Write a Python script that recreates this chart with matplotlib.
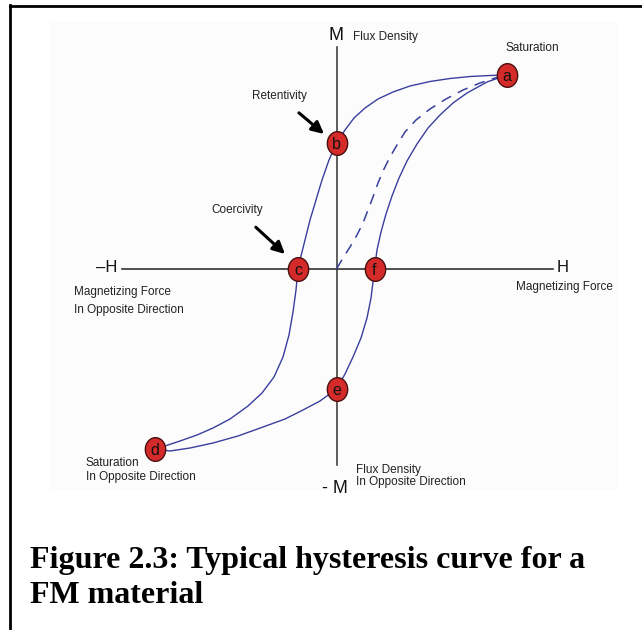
import matplotlib
matplotlib.use("Agg")
import matplotlib.pyplot as plt
from matplotlib.lines import Line2D
from matplotlib.patches import Rectangle
from matplotlib.path import Path
import numpy as np

# ---- hysteresis loop data (H = magnetizing force, M = flux density) ----
# descending branch: saturation a -> retentivity b -> coercivity c -> saturation d
upper_H = [1.705, 1.535, 1.335, 1.135, 0.935, 0.735, 0.565, 0.415, 0.285, 0.175,
           0.085, 0.0, -0.075, -0.145, -0.205, -0.265, -0.315, -0.355, -0.385,
           -0.405, -0.435, -0.475, -0.535, -0.625, -0.745, -0.885, -1.065, -1.235,
           -1.395, -1.565, -1.715, -1.815]
upper_M = [1.94, 1.935, 1.925, 1.905, 1.875, 1.83, 1.77, 1.70, 1.61, 1.51,
           1.39, 1.26, 1.09, 0.89, 0.69, 0.49, 0.29, 0.13, 0.0,
           -0.21, -0.43, -0.66, -0.88, -1.08, -1.24, -1.37, -1.50, -1.59,
           -1.66, -1.72, -1.77, -1.80]

# ascending branch: d -> e -> f -> a
lower_H = [-1.815, -1.665, -1.465, -1.235, -0.985, -0.735, -0.515, -0.335, -0.165,
           0.0, 0.085, 0.165, 0.245, 0.305, 0.345, 0.365, 0.38, 0.405, 0.445,
           0.495, 0.555, 0.625, 0.705, 0.805, 0.915, 1.035, 1.165, 1.305, 1.505,
           1.705]
lower_M = [-1.80, -1.82, -1.79, -1.74, -1.67, -1.58, -1.50, -1.41, -1.32,
           -1.20, -1.05, -0.88, -0.69, -0.49, -0.29, -0.13, 0.0, 0.19, 0.37,
           0.55, 0.73, 0.91, 1.08, 1.25, 1.41, 1.54, 1.66, 1.76, 1.87,
           1.94]

# initial magnetization curve from the demagnetized state
initial_H = [0.0, 0.065, 0.135, 0.205, 0.265, 0.315, 0.365, 0.415, 0.475, 0.535,
             0.605, 0.685, 0.795, 0.935, 1.095, 1.265, 1.435, 1.585, 1.705]
initial_M = [0.0, 0.11, 0.22, 0.34, 0.46, 0.59, 0.72, 0.86, 1.00, 1.12,
             1.24, 1.37, 1.49, 1.60, 1.70, 1.79, 1.86, 1.91, 1.94]

# labelled points on the loop
point_labels = ["a", "b", "c", "d", "e", "f"]
point_H = [1.705, 0.0, -0.385, -1.815, 0.0, 0.38]
point_M = [1.94, 1.26, 0.0, -1.80, -1.20, 0.0]

# ---- figure ----
W, H_px = 642, 630
fig = plt.figure(figsize=(W / 100, H_px / 100), dpi=100)
fig.patch.set_facecolor("white")
ax = fig.add_axes([0, 0, 1, 1])
ax.set_xlim(-3.365, 3.055)
ax.set_ylim(-3.61, 2.69)
ax.axis("off")

sans = ["Liberation Sans", "DejaVu Sans"]
serif = ["Liberation Serif", "DejaVu Serif"]

# faint panel behind the diagram
ax.add_patch(Rectangle((-2.865, -2.21), 5.67, 4.68, facecolor="#fcfcfc",
                       edgecolor="none", zorder=0))

# axes lines
axis_col = "#333333"
ax.plot([-2.145, 2.165], [0, 0], color=axis_col, lw=1.2, zorder=1)
ax.plot([0, 0], [-1.96, 2.22], color=axis_col, lw=1.1, zorder=1)

# loop
curve_col = "#3a3f9e"
ax.plot(upper_H, upper_M, color=curve_col, lw=1.0, solid_joinstyle="round", zorder=2)
ax.plot(lower_H, lower_M, color=curve_col, lw=1.0, solid_joinstyle="round", zorder=2)
ax.plot(initial_H, initial_M, color=curve_col, lw=1.1, linestyle=(0, (7, 5)), zorder=2)

# point markers (slightly tall ellipses)
t = np.linspace(0, 2 * np.pi, 60)
ell = Path(np.column_stack([0.86 * np.cos(t), np.sin(t)]), closed=True)
ax.scatter(point_H, point_M, s=290, marker=ell, facecolor="#d42a2a",
           edgecolor="#4a1010", linewidth=1.0, zorder=4)
for lab, h, m in zip(point_labels, point_H, point_M):
    ax.text(h, m, lab, ha="center", va="center_baseline", fontsize=11.5,
            family=sans, color="#111111", zorder=5)

# axis labels
ax.text(0.0, 2.34, "M", ha="center", va="center", fontsize=13, family=sans, color="#111")
ax.text(0.165, 2.32, "Flux Density", ha="left", va="center", fontsize=8.5, family=sans, color="#222")
ax.text(-2.195, 0.01, "–H", ha="right", va="center", fontsize=12, family=sans, color="#111")
ax.text(2.205, 0.01, "H", ha="left", va="center", fontsize=12, family=sans, color="#111")
ax.text(2.275, -0.21, "Magnetizing Force", ha="center", va="baseline", fontsize=8.5,
        family=sans, color="#222")
ax.text(-2.625, -0.26, "Magnetizing Force", ha="left", va="baseline", fontsize=8.5,
        family=sans, color="#222")
ax.text(-2.625, -0.44, "In Opposite Direction", ha="left", va="baseline", fontsize=8.5,
        family=sans, color="#222")
ax.text(-0.015, -2.24, "- M", ha="center", va="baseline", fontsize=13, family=sans, color="#111")
ax.text(0.195, -2.04, "Flux Density", ha="left", va="baseline", fontsize=8.5, family=sans, color="#222")
ax.text(0.195, -2.16, "In Opposite Direction", ha="left", va="baseline", fontsize=8.5,
        family=sans, color="#222")

# point annotations
ax.text(1.955, 2.21, "Saturation", ha="center", va="center", fontsize=8.5, family=sans, color="#222")
ax.text(-2.505, -1.97, "Saturation", ha="left", va="baseline", fontsize=8.5, family=sans, color="#222")
ax.text(-2.505, -2.11, "In Opposite Direction", ha="left", va="baseline", fontsize=8.5,
        family=sans, color="#222")
ax.annotate("Retentivity", xy=(-0.125, 1.35), xytext=(-0.575, 1.73),
            ha="center", va="center", fontsize=8.5, family=sans, color="#222",
            arrowprops=dict(arrowstyle="-|>", color="black", lw=2.2,
                            mutation_scale=18, shrinkA=9, shrinkB=0))
ax.annotate("Coercivity", xy=(-0.515, 0.15), xytext=(-0.995, 0.59),
            ha="center", va="center", fontsize=8.5, family=sans, color="#222",
            arrowprops=dict(arrowstyle="-|>", color="black", lw=2.2,
                            mutation_scale=18, shrinkA=9, shrinkB=0))

# frame lines at left and top
fig.add_artist(Line2D([9.5 / W, 9.5 / W], [0, 1 - 5 / H_px], transform=fig.transFigure,
                      color="black", lw=2.0, solid_capstyle="projecting"))
fig.add_artist(Line2D([9.5 / W, 1], [1 - 6 / H_px, 1 - 6 / H_px], transform=fig.transFigure,
                      color="black", lw=2.0, solid_capstyle="projecting"))

# caption
fig.text(30 / W, 1 - 568 / H_px, "Figure 2.3: Typical hysteresis curve for a",
         ha="left", va="baseline", fontsize=23, fontweight="bold", family=serif, color="black")
fig.text(30 / W, 1 - 603 / H_px, "FM material",
         ha="left", va="baseline", fontsize=23, fontweight="bold", family=serif, color="black")

fig.savefig("out.png", dpi=100, facecolor="white")
